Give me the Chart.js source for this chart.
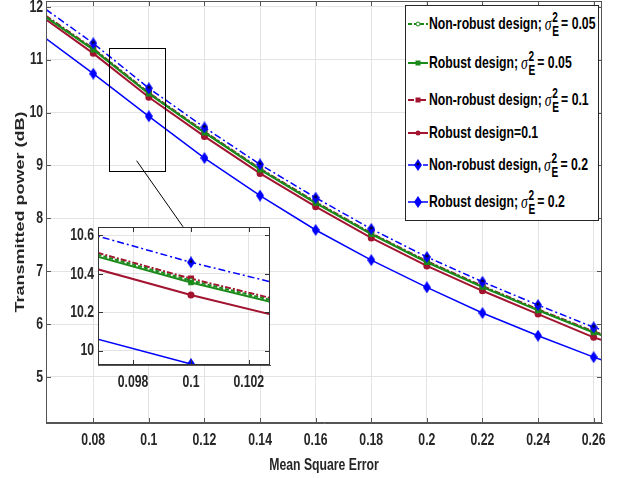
<!DOCTYPE html>
<html>
<head>
<meta charset="utf-8">
<script src="https://cdn.jsdelivr.net/npm/chart.js@4.4.0/dist/chart.umd.min.js"></script>
<style>
body{margin:0;background:#fff;}
#wrap{position:relative;width:619px;height:478px;overflow:hidden;}
#main{position:absolute;left:0;top:0;}
#inset{position:absolute;left:58px;top:220px;}
#legend{position:absolute;left:405px;top:5px;width:194px;height:216px;border:1px solid #262626;background:#fff;box-sizing:border-box;
  font-family:"Liberation Sans",Arial,sans-serif;font-weight:bold;font-size:17px;color:#000;}
.row{position:absolute;left:1px;height:30px;display:flex;align-items:center;white-space:nowrap;}
.row svg{flex:none;}
.txt{display:inline-flex;align-items:center;transform:scaleX(0.72);transform-origin:0 50%;}
.sym{display:inline-flex;align-items:center;font-family:"Liberation Serif","DejaVu Serif",serif;font-style:italic;font-weight:normal;font-size:19px;margin-left:4px;}
.ss{display:inline-flex;flex-direction:column;font-family:"Liberation Sans",sans-serif;font-style:normal;font-weight:bold;font-size:14px;line-height:14px;margin:0 3px 0 1px;}
</style>
</head>
<body>
<div id="wrap">
  <canvas id="main" width="619" height="478"></canvas>
  <canvas id="inset" width="222" height="175"></canvas>
  <div id="legend"></div>
</div>
<script>
var mse   = [0.063, 0.08, 0.10, 0.12, 0.14, 0.16, 0.18, 0.20, 0.22, 0.24, 0.26, 0.263];
var nr005 = [11.81, 11.20, 10.365, 9.63, 8.93, 8.30, 7.71, 7.18, 6.71, 6.27, 5.85, 5.80];
var r005  = [11.80, 11.19, 10.355, 9.62, 8.92, 8.29, 7.70, 7.17, 6.70, 6.26, 5.84, 5.79];
var nr01  = [11.83, 11.21, 10.375, 9.64, 8.94, 8.31, 7.72, 7.19, 6.72, 6.28, 5.86, 5.81];
var r01   = [11.76, 11.12, 10.29, 9.55, 8.85, 8.22, 7.63, 7.10, 6.63, 6.19, 5.75, 5.70];
var nr02  = [11.95, 11.31, 10.46, 9.72, 9.02, 8.39, 7.80, 7.27, 6.80, 6.36, 5.94, 5.89];
var r02   = [11.40, 10.735, 9.93, 9.14, 8.43, 7.78, 7.21, 6.695, 6.21, 5.78, 5.375, 5.32];

var xTicks = [0.08, 0.10, 0.12, 0.14, 0.16, 0.18, 0.20, 0.22, 0.24, 0.26];
var yTicks = [5, 6, 7, 8, 9, 10, 11, 12];
var insetXTicks = [0.098, 0.100, 0.102];
var insetYTicks = [10, 10.2, 10.4, 10.6];

var legendText = ["Non-robust design;", "Robust design;", "Non-robust design;", "Robust design=0.1", "Non-robust design,", "Robust design;"];
var legendValue = [" = 0.05", " = 0.05", " = 0.1", "", " = 0.2", " = 0.2"];

// zoom box drawn on the main plot (data units)
var zoomX = [0.0856, 0.1056];
var zoomY = [8.90, 11.22];
var connX = [0.0956, 0.1123];
var connY = [9.09, 7.84];

var GREEN = "#1a8a1a", RED = "#a2142f", BLUE = "#0000ff";
var FONT = '"Liberation Sans",Arial,sans-serif';
var SQ = 0.72; // the figure text is squeezed sideways

function diamond(fill, dot)
{
    var c = document.createElement("canvas");
    c.width = 8; c.height = 12;
    var g = c.getContext("2d");
    g.fillStyle = fill;
    g.beginPath();
    g.moveTo(4, 0); g.lineTo(8, 6); g.lineTo(4, 12); g.lineTo(0, 6); g.closePath();
    g.fill();
    if (dot) {
        g.fillStyle = "#000033";
        g.beginPath(); g.arc(4, 5, 1.6, 0, Math.PI * 2); g.fill();
    }
    return c;
}

function series(vals)
{
    return mse.map(function(x, i){ return {x: x, y: vals[i]}; });
}

function ends(r)
{
    return function(ctx){ return (ctx.dataIndex === 0 || ctx.dataIndex === mse.length - 1) ? 0 : r; };
}

function makeDatasets()
{
    return [
        {label: legendText[5], data: series(r02), borderColor: BLUE, backgroundColor: BLUE, borderWidth: 1.5,
         pointStyle: diamond(BLUE, false), pointRadius: ends(5)},
        {label: legendText[4], data: series(nr02), borderColor: BLUE, backgroundColor: BLUE, borderWidth: 1.5, borderDash: [7, 3, 2, 3],
         pointStyle: diamond(BLUE, true), pointRadius: ends(5)},
        {label: legendText[1], data: series(r005), borderColor: GREEN, backgroundColor: GREEN, borderWidth: 2,
         pointStyle: "rect", pointRadius: ends(2.5)},
        {label: legendText[0], data: series(nr005), borderColor: GREEN, backgroundColor: "#fff", borderWidth: 2, borderDash: [4, 2],
         pointStyle: "circle", pointRadius: ends(2), pointBorderWidth: 1},
        {label: legendText[3], data: series(r01), borderColor: RED, backgroundColor: RED, borderWidth: 2,
         pointStyle: "circle", pointRadius: ends(2.5)},
        {label: legendText[2], data: series(nr01), borderColor: RED, backgroundColor: RED, borderWidth: 2, borderDash: [6, 2, 2, 2],
         pointStyle: "rect", pointRadius: ends(3)}
    ];
}

function fmt(v){ return String(+v.toFixed(3)); }

function squeezed(c, s, x, y, align)
{
    c.save();
    c.translate(x, y);
    c.scale(SQ, 1);
    c.textAlign = align;
    c.fillText(s, 0, 0);
    c.restore();
}

var boxPlugin = {
    id: "box",
    beforeDraw: function(chart, args, opts) {
        if (!opts.fill) return;
        var a = chart.chartArea, c = chart.ctx;
        c.save(); c.fillStyle = "#fff"; c.fillRect(a.left, a.top, a.right - a.left, a.bottom - a.top); c.restore();
    },
    afterDraw: function(chart, args, opts) {
        var a = chart.chartArea, c = chart.ctx;
        var t = 5;
        c.save();
        c.strokeStyle = opts.color || "#444";
        c.lineWidth = 1;
        c.strokeRect(a.left + 0.5, a.top + 0.5, a.right - a.left - 1, a.bottom - a.top - 1);
        c.beginPath();
        chart.scales.x.ticks.forEach(function(tk){
            var px = Math.round(chart.scales.x.getPixelForValue(tk.value)) + 0.5;
            c.moveTo(px, a.bottom); c.lineTo(px, a.bottom - t);
            c.moveTo(px, a.top); c.lineTo(px, a.top + t);
        });
        chart.scales.y.ticks.forEach(function(tk){
            var py = Math.round(chart.scales.y.getPixelForValue(tk.value)) + 0.5;
            c.moveTo(a.left, py); c.lineTo(a.left + t, py);
            c.moveTo(a.right, py); c.lineTo(a.right - t, py);
        });
        c.stroke();

        // tick labels and titles
        var sx = chart.scales.x, sy = chart.scales.y;
        c.fillStyle = "#262626";
        c.font = "bold 17px " + FONT;
        c.textBaseline = "middle";
        sx.ticks.forEach(function(tk){ squeezed(c, fmt(tk.value), sx.getPixelForValue(tk.value), a.bottom + opts.xOff, "center"); });
        sy.ticks.forEach(function(tk){ squeezed(c, fmt(tk.value), a.left - opts.yOff, sy.getPixelForValue(tk.value), "right"); });
        if (opts.xTitle)
            squeezed(c, opts.xTitle, (a.left + a.right) / 2, opts.xTitleY, "center");
        if (opts.yTitle) {
            c.save();
            c.font = "bold 18px " + FONT;
            c.translate(opts.yTitleX, (a.top + a.bottom) / 2);
            c.rotate(-Math.PI / 2);
            c.scale(1, SQ);
            c.textAlign = "center";
            c.fillText(opts.yTitle, 0, 0);
            c.restore();
        }
        c.restore();
    }
};

var zoomPlugin = {
    id: "zoomBox",
    afterDatasetsDraw: function(chart) {
        var x = chart.scales.x, y = chart.scales.y, c = chart.ctx;
        c.save();
        c.strokeStyle = "#000";
        c.lineWidth = 1;
        var x0 = x.getPixelForValue(zoomX[0]), x1 = x.getPixelForValue(zoomX[1]);
        var y0 = y.getPixelForValue(zoomY[1]), y1 = y.getPixelForValue(zoomY[0]);
        c.strokeRect(Math.round(x0) + 0.5, Math.round(y0) + 0.5, Math.round(x1 - x0), Math.round(y1 - y0));
        c.beginPath();
        c.moveTo(x.getPixelForValue(connX[0]), y.getPixelForValue(connY[0]));
        c.lineTo(x.getPixelForValue(connX[1]), y.getPixelForValue(connY[1]));
        c.stroke();
        c.restore();
    }
};

function axisOpts(min, max, tickVals, size)
{
    return {
        type: "linear", min: min, max: max,
        afterFit: function(s){ if (s.isHorizontal()) s.height = size; else s.width = size; },
        afterBuildTicks: function(s){ s.ticks = tickVals.map(function(v){ return {value: v}; }); },
        ticks: {display: false},
        grid: {color: "#e3e3e3", drawTicks: false},
        border: {color: "#555"}
    };
}

new Chart(document.getElementById("main"), {
    type: "line",
    data: {datasets: makeDatasets()},
    options: {
        responsive: false, animation: false,
        layout: {padding: {top: 1, right: 17, left: 0, bottom: 0}},
        plugins: {legend: {display: false}, tooltip: {enabled: false},
            box: {color: "#555", xOff: 17, yOff: 3, xTitle: "Mean Square Error", xTitleY: 465,
                  yTitle: "Transmitted power (dB)", yTitleX: 20}},
        scales: {
            x: axisOpts(0.063, 0.263, xTicks, 55),
            y: axisOpts(4.13, 12.11, yTicks, 46)
        }
    },
    plugins: [boxPlugin, zoomPlugin]
});

new Chart(document.getElementById("inset"), {
    type: "line",
    data: {datasets: makeDatasets()},
    options: {
        responsive: false, animation: false,
        layout: {padding: {top: 7, right: 10, left: 0, bottom: 0}},
        plugins: {legend: {display: false}, tooltip: {enabled: false}, box: {fill: true, color: "#333", xOff: 17, yOff: 4}},
        scales: {
            x: axisOpts(0.09679, 0.10273, insetXTicks, 30),
            y: axisOpts(9.925, 10.644, insetYTicks, 40)
        }
    },
    plugins: [boxPlugin]
});

function sample(i)
{
    var ds = makeDatasets();
    var order = [3, 2, 5, 4, 1, 0];
    var d = ds[order[i]];
    var dash = d.borderDash ? ' stroke-dasharray="' + d.borderDash.join(",") + '"' : "";
    var s = '<svg width="22" height="12"><line x1="1" y1="6" x2="21" y2="6" stroke="' + d.borderColor + '" stroke-width="' + d.borderWidth + '"' + dash + '/>';
    if (d.pointStyle === "circle" && d.backgroundColor === "#fff")
        s += '<circle cx="11" cy="6" r="2" fill="#fff" stroke="' + d.borderColor + '"/>';
    else if (d.pointStyle === "circle")
        s += '<circle cx="11" cy="6" r="2.5" fill="' + d.borderColor + '"/>';
    else if (d.pointStyle === "rect")
        s += '<rect x="8.5" y="3.5" width="5" height="5" fill="' + d.borderColor + '"/>';
    else {
        s += '<polygon points="11,0 15,6 11,12 7,6" fill="' + d.borderColor + '"/>';
        if (i === 4) s += '<circle cx="11" cy="5" r="1.5" fill="#000033"/>';
    }
    return s + "</svg>";
}

var rowTop = [24, 63, 100, 133, 165, 202];
var leg = document.getElementById("legend");
for (var i = 0; i < legendText.length; i++)
{
    var html = "<span>" + legendText[i] + "</span>";
    if (legendValue[i] !== "")
        html += '<span class="sym">σ<span class="ss"><span>2</span><span>E</span></span></span><span>' + legendValue[i] + "</span>";
    var row = document.createElement("div");
    row.className = "row";
    row.innerHTML = sample(i) + '<span class="txt">' + html + "</span>";
    leg.appendChild(row);
    row.style.top = (rowTop[i] - 6 - 15) + "px";
}
</script>
</body>
</html>
